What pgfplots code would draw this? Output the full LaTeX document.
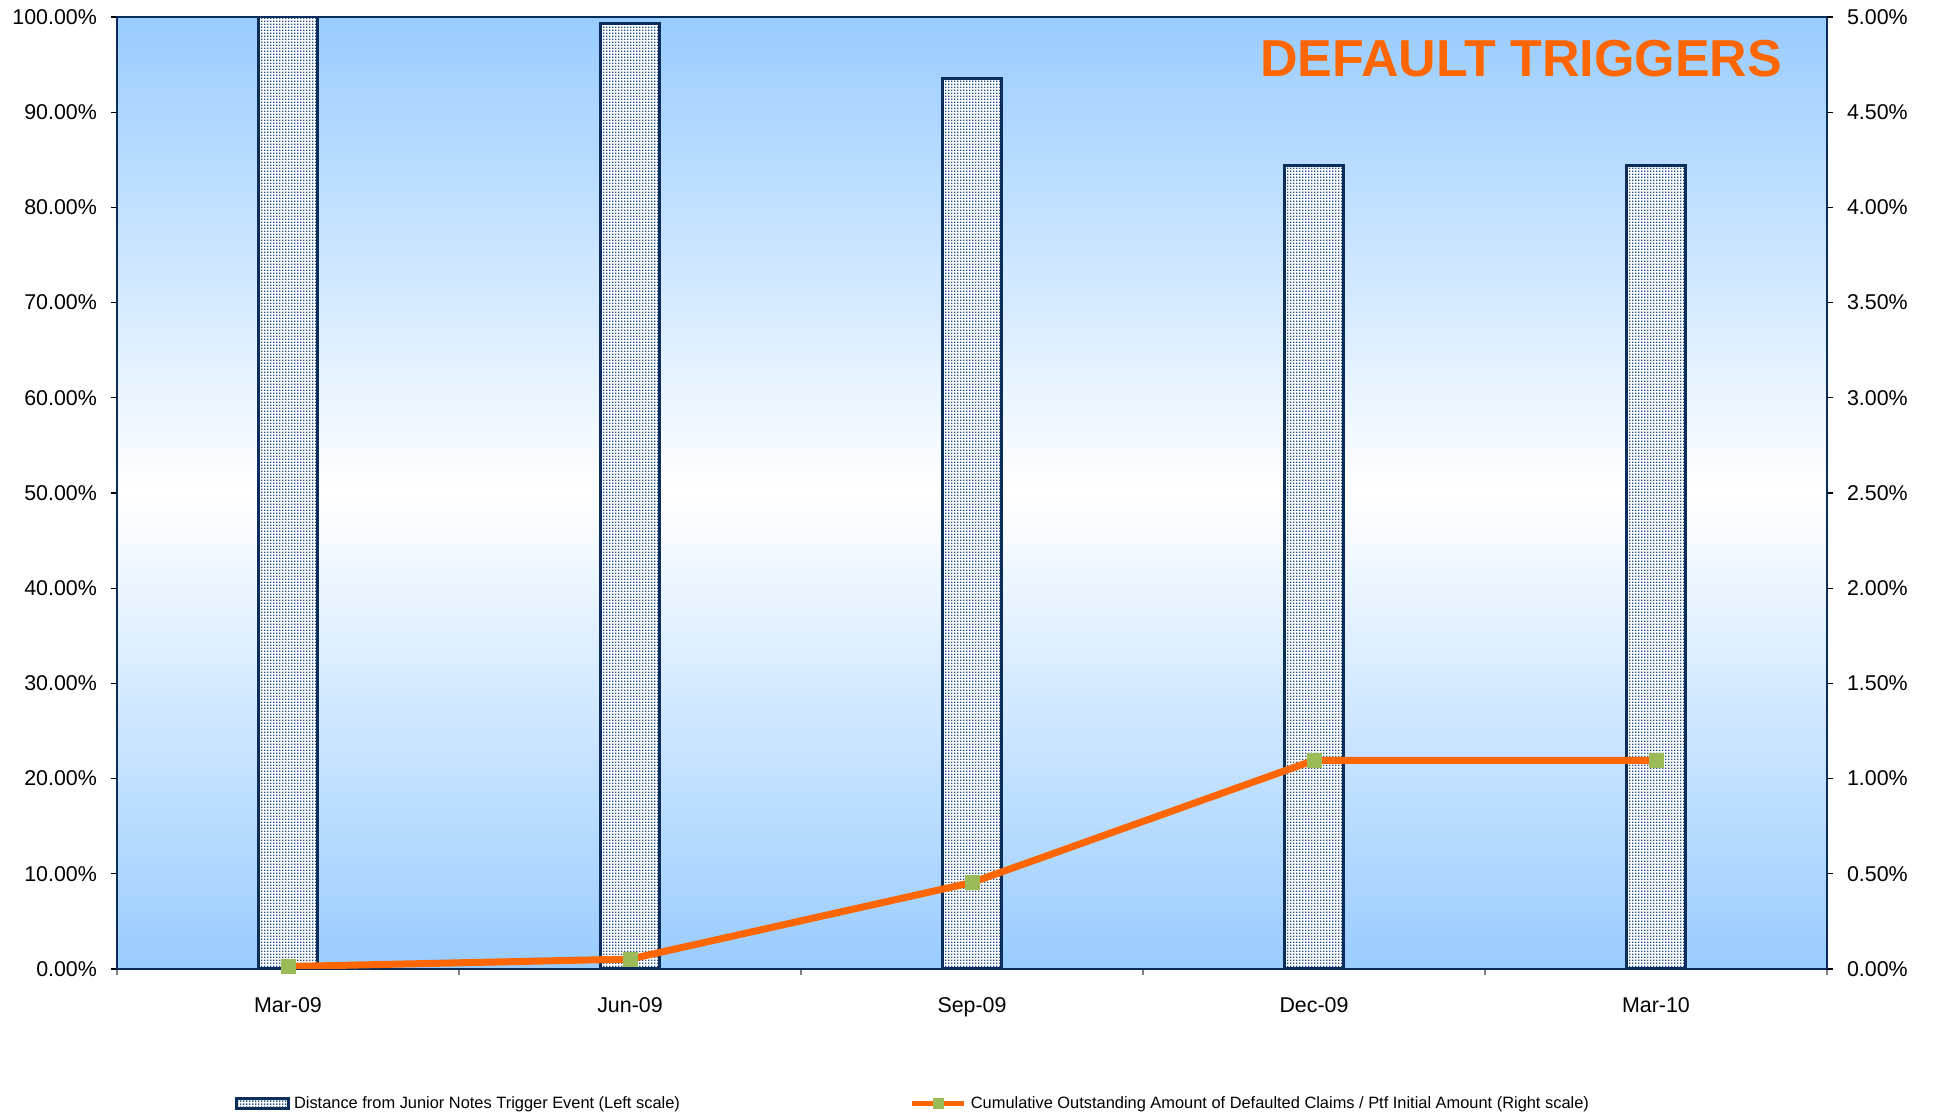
\documentclass[border=0pt]{standalone}
\usepackage{pgfplots}
\pgfplotsset{compat=1.18}
\usepackage{fontspec}
\setmainfont{Liberation Sans}
\usetikzlibrary{patterns}
\definecolor{bgblue}{HTML}{99CCFF}
\definecolor{navy}{HTML}{0B2D5A}
\definecolor{dotblue}{HTML}{1F4E86}
\definecolor{orangeL}{HTML}{FF6600}
\definecolor{greenM}{HTML}{9BBB59}
\pgfdeclarepatternformonly{densedots}{\pgfpointorigin}{\pgfpoint{1.5pt}{1.5pt}}{\pgfpoint{1.5pt}{1.5pt}}{%
  \pgfpathrectangle{\pgfpointorigin}{\pgfpoint{0.95pt}{0.95pt}}\pgfusepath{fill}}
\pgfplotsset{
  mybarlegend/.style={legend image code/.code={\draw[##1] (0pt,-2.5pt) rectangle (26pt,2.5pt);}},
  mylinelegend/.style={legend image code/.code={\draw[mark repeat=2,mark phase=2,##1] plot coordinates {(0pt,0pt) (13pt,0pt) (26pt,0pt)};}},
}
\begin{document}
\begin{tikzpicture}
\useasboundingbox (-58.5pt,-74pt) rectangle (909.5pt,484.5pt);
\begin{axis}[
  at={(0pt,0pt)}, anchor=south west,
  scale only axis, width=855pt, height=476pt,
  xmin=-0.5, xmax=4.5, ymin=0, ymax=100,
  axis background/.style={shade, top color=bgblue, bottom color=bgblue, middle color=white},
  axis line style={navy, line width=1pt},
  xtick={0,1,2,3,4},
  xticklabels={Mar-09,Jun-09,Sep-09,Dec-09,Mar-10},
  major x tick style={draw=none},
  minor xtick={-0.5,0.5,1.5,2.5,3.5,4.5},
  minor tick length=3pt,
  minor x tick style={gray, line width=0.6pt},
  xtick pos=bottom, ytick pos=left,
  tick align=outside,
  major tick length=3pt,
  ytick={0,10,...,100},
  yticklabels={0.00\%,10.00\%,20.00\%,30.00\%,40.00\%,50.00\%,60.00\%,70.00\%,80.00\%,90.00\%,100.00\%},
  tick label style={font=\fontsize{10.7}{13}\selectfont},
  xticklabel style={yshift=-7.5pt},
  yticklabel style={xshift=-3.5pt},
  y tick style={black, line width=0.6pt},
  legend style={at={(0.0688,-0.1415)}, anchor=west, draw=none, fill=none,
    font=\fontsize{8.2}{9.5}\selectfont, legend columns=2,
    /tikz/every even column/.append style={column sep=113pt},
    legend cell align=left, inner sep=0pt},
]
\addplot[ybar, bar width=0.17, draw=navy, line width=1.5pt, fill=white,
  postaction={pattern=densedots, pattern color=dotblue}, mybarlegend]
  coordinates {(0,100) (1,99.3) (2,93.5) (3,84.4) (4,84.4)};
\addlegendentry{Distance from Junior Notes Trigger Event (Left scale)}
\addlegendimage{orangeL, line width=2.5pt, mark=square*, mark size=2.5pt,
  mark options={draw=greenM, fill=greenM, line width=0pt}, mylinelegend}
\addlegendentry{Cumulative Outstanding Amount of Defaulted Claims / Ptf Initial Amount (Right scale)}
\node[anchor=east, inner sep=0pt, text=orangeL, font=\bfseries\fontsize{26}{30}\selectfont]
  at (rel axis cs:0.974,0.956) {DEFAULT TRIGGERS};
\end{axis}
\begin{axis}[
  at={(0pt,0pt)}, anchor=south west,
  scale only axis, width=855pt, height=476pt,
  xmin=-0.5, xmax=4.5, ymin=0, ymax=5,
  axis y line*=right, axis x line=none,
  axis line style={navy, line width=1pt},
  tick align=outside, major tick length=3pt,
  ytick={0,0.5,...,5},
  yticklabels={0.00\%,0.50\%,1.00\%,1.50\%,2.00\%,2.50\%,3.00\%,3.50\%,4.00\%,4.50\%,5.00\%},
  tick label style={font=\fontsize{10.7}{13}\selectfont},
  yticklabel style={xshift=3.5pt},
  y tick style={black, line width=0.6pt},
]
\addplot[orangeL, line width=3.5pt, mark=square*, mark size=3.5pt,
  mark options={draw=greenM, fill=greenM, line width=0pt}]
  coordinates {(0,0.013) (1,0.052) (2,0.454) (3,1.096) (4,1.096)};
\end{axis}
\end{tikzpicture}
\end{document}
